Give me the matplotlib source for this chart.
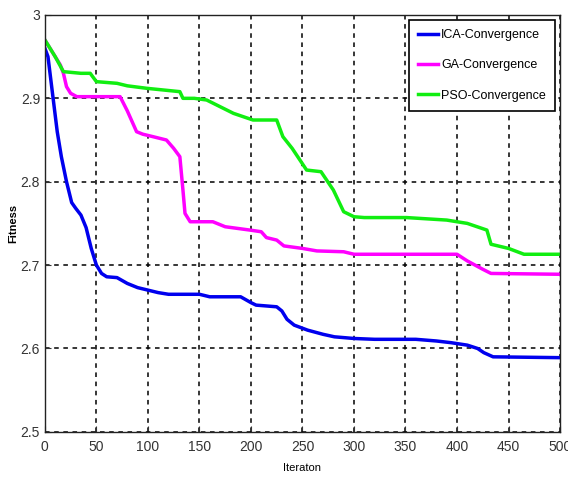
import matplotlib
matplotlib.use("Agg")
import matplotlib.pyplot as plt

# ── Dados ──────────────────────────────────────────────────────────────────
ica_x = [0, 3, 8, 12, 16, 21, 26, 30, 35, 40, 45, 50, 55, 60, 70, 80, 90, 100,
         110, 120, 150, 160, 190, 200, 205, 225, 230, 235, 242, 255, 270, 281,
         300, 320, 360, 380, 394, 410, 420, 426, 435, 500]
ica_y = [2.96, 2.95, 2.90, 2.86, 2.83, 2.80, 2.775, 2.768, 2.76, 2.745, 2.72,
         2.70, 2.69, 2.686, 2.685, 2.678, 2.673, 2.67, 2.667, 2.665, 2.665,
         2.662, 2.662, 2.655, 2.652, 2.65, 2.645, 2.635, 2.628, 2.622, 2.617,
         2.614, 2.612, 2.611, 2.611, 2.609, 2.607, 2.604, 2.60, 2.595, 2.59, 2.589]

ga_x = [0, 10, 15, 18, 21, 25, 31, 73, 80, 89, 95, 105, 118, 125, 131, 134,
        136, 141, 163, 175, 199, 210, 215, 225, 232, 250, 264, 290, 300, 400,
        410, 425, 433, 500]
ga_y = [2.97, 2.95, 2.94, 2.93, 2.914, 2.906, 2.902, 2.902, 2.885, 2.86, 2.857,
        2.854, 2.85, 2.84, 2.83, 2.79, 2.762, 2.752, 2.752, 2.746, 2.742, 2.74,
        2.733, 2.73, 2.723, 2.72, 2.717, 2.716, 2.713, 2.713, 2.705, 2.695,
        2.69, 2.689]

pso_x = [0, 5, 10, 18, 35, 44, 50, 70, 80, 99, 131, 134, 145, 157, 170, 183,
         202, 225, 231, 240, 254, 268, 280, 290, 300, 310, 351, 390, 410, 429,
         433, 450, 465, 500]
pso_y = [2.97, 2.96, 2.95, 2.932, 2.93, 2.93, 2.92, 2.918, 2.915, 2.912, 2.908,
         2.90, 2.90, 2.898, 2.89, 2.882, 2.874, 2.874, 2.854, 2.84, 2.814,
         2.812, 2.79, 2.764, 2.758, 2.757, 2.757, 2.754, 2.75, 2.742, 2.725,
         2.72, 2.713, 2.713]

x_ticks = [0, 50, 100, 150, 200, 250, 300, 350, 400, 450, 500]
y_ticks = [2.5, 2.6, 2.7, 2.8, 2.9, 3.0]
y_labels = ['2.5', '2.6', '2.7', '2.8', '2.9', '3']

# ── Figura ─────────────────────────────────────────────────────────────────
plt.rcParams['font.family'] = ['Liberation Sans Narrow', 'Liberation Sans', 'DejaVu Sans']

fig = plt.figure(figsize=(5.68, 4.82), dpi=100)
ax = fig.add_axes([0.079, 0.104, 0.907, 0.865])

ax.plot(ica_x, ica_y, color='#0000ee', lw=2.5, label='ICA-Convergence')
ax.plot(ga_x, ga_y, color='#ff00ff', lw=2.5, label='GA-Convergence')
ax.plot(pso_x, pso_y, color='#11ee11', lw=2.5, label='PSO-Convergence')

ax.set_xlim(0, 500)
ax.set_ylim(2.5, 3.0)
ax.set_xticks(x_ticks)
ax.set_yticks(y_ticks)
ax.set_yticklabels(y_labels)
ax.tick_params(direction='in', labelsize=10, length=4, colors='#333333')
ax.tick_params(axis='x', pad=6)

ax.grid(True, color='black', ls=(0, (3, 3)), lw=1.1)
for s in ax.spines.values():
    s.set_linewidth(1.0)
    s.set_color('#222222')

ax.set_xlabel('Iteraton', fontsize=8, labelpad=6)
ax.set_ylabel('Fitness', fontsize=8, fontweight='bold', labelpad=2)

leg = ax.legend(loc='upper right', fontsize=9, handlelength=1.6,
                handletextpad=0.2, borderpad=0.75, labelspacing=1.45,
                fancybox=False, framealpha=1, borderaxespad=0.4)
leg.get_frame().set_edgecolor('black')
leg.get_frame().set_linewidth(1.2)

fig.savefig('out.png', dpi=100)
